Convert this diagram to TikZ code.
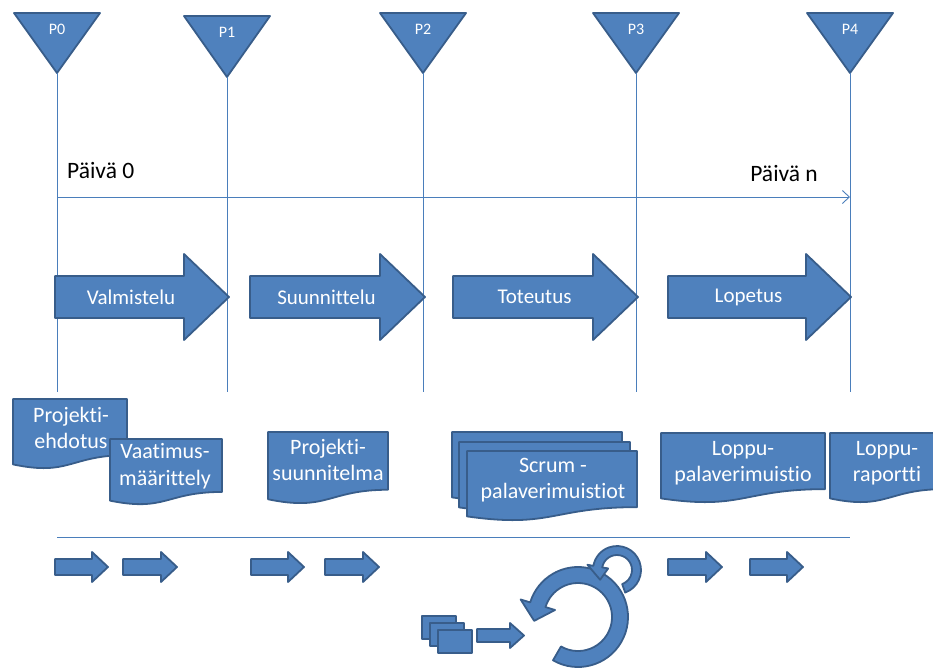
\documentclass[tikz,border=0pt]{standalone}
\usepackage{fontspec}
\setmainfont{Carlito}[Ligatures=NoCommon]
\usetikzlibrary{arrows.meta}
\definecolor{fillblue}{HTML}{4F81BD}
\definecolor{edgeblue}{HTML}{385D8A}
\definecolor{lineblue}{HTML}{4A7EBB}

% milestone triangle: apex x, top y, apex y
\newcommand\milestone[5]{%
  \draw[shapestyle] ({#1-43},#2) -- ({#1+43},#2) -- (#1,#3) -- cycle;
  \node[whitetext,font=\fontsize{16}{19}\selectfont] (#4) at (#1,{#2+16}) {#5};
  \coordinate (#4tip) at (#1,#3);
  \coordinate (#4end) at (#1,392);}

% phase arrow: tail x, tip x, name, label
\newcommand\phasearrow[4]{%
  \draw[shapestyle] (#1,276) -- ({#2-45},276) -- ({#2-45},254) -- (#2,297)
    -- ({#2-45},340) -- ({#2-45},318) -- (#1,318) -- cycle;
  \node[whitetext,font=\fontsize{21}{25}\selectfont] (#3) at ({(#1+#2)/2-11},297) {#4};}

% small arrow: tail x, tip x, centre y
\newcommand\smallarrow[3]{%
  \draw[shapestyle] (#1,{#3-8}) -- ({#2-16},{#3-8}) -- ({#2-16},{#3-15}) -- (#2,#3)
    -- ({#2-16},{#3+15}) -- ({#2-16},{#3+8}) -- (#1,{#3+8}) -- cycle;}

% document shape with wavy bottom: left x, top y, width, height
\newcommand\docpath[4]{%
  \draw[shapestyle] (#1,#2) -- ({#1+#3},#2) -- ({#1+#3},{#2+0.802*#4})
    .. controls ({#1+0.5*#3},{#2+0.802*#4}) and ({#1+0.5*#3},{#2+1.107*#4})
    .. (#1,{#2+0.934*#4}) -- cycle;}

\begin{document}
\begin{tikzpicture}[x=1pt,y=-1pt,
  shapestyle/.style={fill=fillblue,draw=edgeblue,line width=1.8pt,line join=round},
  guide/.style={draw=lineblue,line width=0.9pt},
  whitetext/.style={text=white,inner sep=0pt,align=center},
  doctext/.style={whitetext,font=\fontsize{22}{26.5}\selectfont},
  daytext/.style={inner sep=0pt,font=\fontsize{23.5}{27}\selectfont}]
\useasboundingbox (0,0) rectangle (933,667);

% milestones and their guide lines
\milestone{57}{13}{73}{p0}{P0}
\milestone{227}{16}{77}{p1}{P1}
\milestone{423}{13}{73}{p2}{P2}
\milestone{636}{13}{73}{p3}{P3}
\milestone{850}{13}{73}{p4}{P4}
\foreach \p in {p0,p1,p2,p3,p4} \draw[guide] (\p tip) -- (\p end);

% time axis
\coordinate (daystart) at (57,197);
\coordinate (dayend) at (850,197);
\draw[guide,-{Straight Barb[length=7pt,width=13pt]}] (daystart) -- (dayend);
\node[daytext,anchor=west] (day0) at (67,170) {Päivä 0};
\node[daytext,anchor=east] (dayn) at (818,173) {Päivä n};

% phases
\phasearrow{55}{229}{valm}{Valmistelu}
\phasearrow{250}{425}{suun}{Suunnittelu}
\phasearrow{453}{638}{tote}{Toteutus}
\phasearrow{668}{851}{lope}{Lopetus}

% documents
\docpath{13}{399}{114}{70}
\node[doctext] (ehdotus) at (71,428) {Projekti-\\ehdotus};
\docpath{110}{439}{112}{66}
\node[doctext] (maarittely) at (165,466) {Vaatimus-\\määrittely};
\docpath{268}{432}{120}{72}
\node[doctext] (suunnitelma) at (328,460) {Projekti-\\suunnitelma};
\docpath{452}{432}{170}{70}
\docpath{459}{442}{171}{70}
\docpath{467}{451}{170}{70}
\node[doctext] (scrum) at (553,480) {Scrum -\\palaverimuistiot};
\docpath{661}{433}{164}{70}
\node[doctext] (palaveri) at (743,463) {Loppu-\\palaverimuistio};
\begin{scope}
  \clip (0,0) rectangle (933,667);
  \docpath{830}{433}{114}{70}
\end{scope}
\node[doctext] (raportti) at (887,463) {Loppu-\\raportti};

% separator
\coordinate (sepstart) at (57,537);
\coordinate (sepend) at (850,537);
\draw[guide] (sepstart) -- (sepend);

% small process arrows
\smallarrow{55}{108}{567}
\smallarrow{123}{177}{567}
\smallarrow{251}{304}{567}
\smallarrow{325}{379}{567}
\smallarrow{668}{722}{567}
\smallarrow{750}{803}{567}

% stacked pages feeding the iteration loop
\draw[shapestyle] (422,616) rectangle (456,639);
\draw[shapestyle] (430,623) rectangle (464,646);
\draw[shapestyle] (438,630) rectangle (472,653);
\draw[shapestyle] (477,629) -- (510,629) -- (510,623) -- (524,635.5) -- (510,648)
  -- (510,642) -- (477,642) -- cycle;

% iteration loop
\begin{scope}[shift={(578,617)},yscale=-1]
  \draw[shapestyle] (240:34) -- (240:50) arc[start angle=240,end angle=523,radius=50]
    -- (163:60) -- (185:44) -- (163:24) -- (163:34)
    arc[start angle=523,end angle=240,radius=34] -- cycle;
\end{scope}
\begin{scope}[shift={(617,570)},yscale=-1]
  \draw[shapestyle] (-70:15) -- (-70:24) arc[start angle=-70,end angle=170,radius=24]
    -- (170:30) -- (210:19.5) -- (170:9) -- (170:15)
    arc[start angle=170,end angle=-70,radius=15] -- cycle;
\end{scope}
\end{tikzpicture}
\end{document}
